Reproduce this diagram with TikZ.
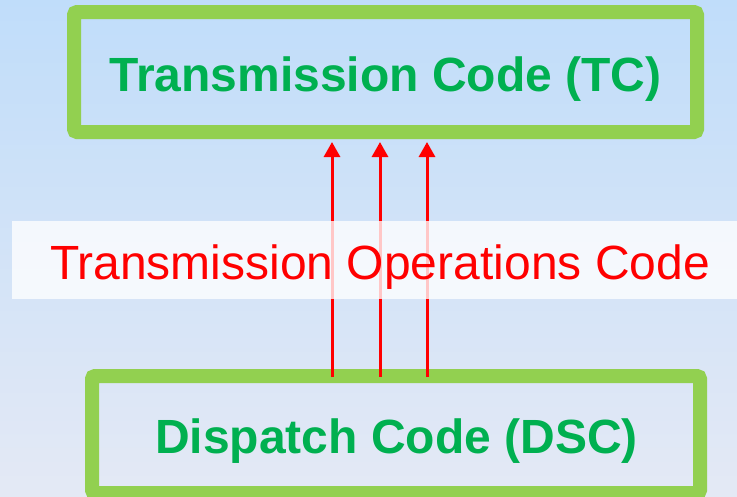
\documentclass[tikz,border=0pt]{standalone}
\usepackage{fontspec}
\setmainfont{Liberation Sans}
\usetikzlibrary{arrows.meta}
\definecolor{bgtop}{RGB}{192,221,250}
\definecolor{bgbot}{RGB}{228,233,245}
\definecolor{boxgreen}{RGB}{146,208,80}
\definecolor{txtgreen}{RGB}{0,176,80}
\tikzset{
  codebox/.style={draw=boxgreen, line width=14pt, rounded corners=3pt},
  codetext/.style={text=txtgreen, font=\fontsize{48}{58}\selectfont\bfseries, inner sep=0pt, anchor=base},
  flow/.style={draw=red, line width=3pt, -{Triangle[width=16pt,length=15pt]}},
  bandtext/.style={text=red, font=\fontsize{48}{56}\selectfont, inner sep=0pt, anchor=base}
}
\begin{document}
\begin{tikzpicture}[x=1pt,y=-1pt]
\useasboundingbox (0,0) rectangle (737,496);
\begin{scope}
\clip (0,0) rectangle (737,496);
\shade[top color=bgtop, bottom color=bgbot] (0,0) rectangle (737,496);
\draw[codebox] (74,12) rectangle (697,132);
\node[codetext] (tc) at (385.5,91) {Transmission Code (TC)};
\draw[codebox] (92,376) rectangle (700,493);
\node[codetext] (dsc) at (396.5,453) {Dispatch Code (DSC)};
\coordinate (s1) at (332,377); \coordinate (e1) at (332,142);
\coordinate (s2) at (380,377); \coordinate (e2) at (380,142);
\coordinate (s3) at (427,377); \coordinate (e3) at (427,142);
\draw[flow] (s1) -- (e1);
\draw[flow] (s2) -- (e2);
\draw[flow] (s3) -- (e3);
\fill[white, fill opacity=0.78] (12,221) rectangle (737,299);
\node[bandtext] (toc) at (380,279) {Transmission Operations Code};
\end{scope}
\end{tikzpicture}
\end{document}
